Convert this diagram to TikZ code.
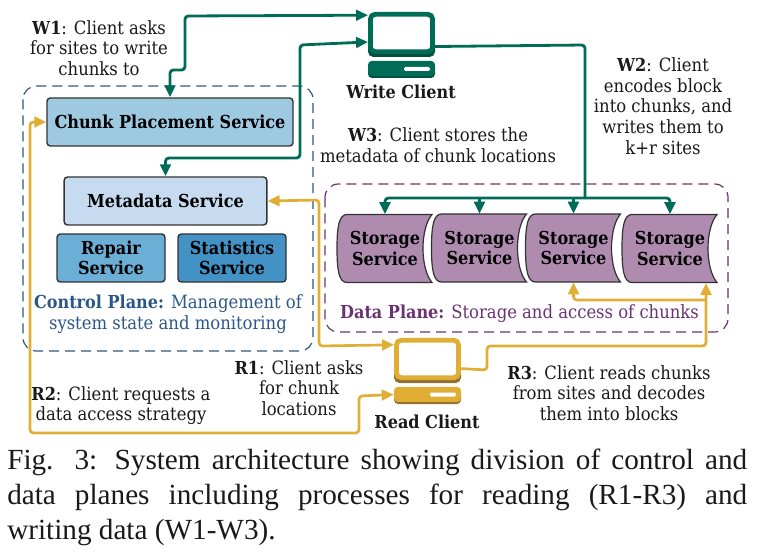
\documentclass[tikz,border=0pt]{standalone}
\usepackage{fontspec}
\setmainfont{Liberation Serif}
\newfontfamily\figfont{DejaVu Serif Condensed}
\usepackage{tikz}
\usetikzlibrary{arrows.meta}
\definecolor{wgreen}{HTML}{006B57}
\definecolor{wgreendark}{HTML}{00503F}
\definecolor{ryellow}{HTML}{E0AE35}
\definecolor{ryellowdark}{HTML}{8F7030}
\definecolor{ctrlblue}{HTML}{2B5688}
\definecolor{dataplum}{HTML}{6B3272}
\definecolor{stplum}{HTML}{AF8BB0}
\definecolor{chunkblue}{HTML}{9ECAE1}
\definecolor{metablue}{HTML}{C6DBEF}
\definecolor{repairblue}{HTML}{6BAED6}
\definecolor{statsblue}{HTML}{4292C6}
\newcommand{\lbl}[1]{\textbf{\fontsize{13.4}{15.5}\selectfont #1}}

\begin{document}
\begin{tikzpicture}[x=0.75pt, y=-0.75pt,
      service/.style={draw=black!80, line width=1.1pt, rounded corners=2.5pt, inner sep=0pt,
                      font=\figfont\bfseries\fontsize{13.4}{15.5}\selectfont, align=center},
      caption/.style={inner sep=0pt, align=center, font=\figfont\fontsize{13.7}{15.5}\selectfont, text=black!90},
      plane/.style={line width=0.9pt, rounded corners=10pt, dash pattern=on 7.5pt off 4.5pt},
      stshape/.style={draw=black!80, line width=0.9pt, fill=stplum},
      stbox/.style={inner sep=0pt, minimum width=71pt, minimum height=51pt, align=center,
                    font=\figfont\bfseries\fontsize{13.4}{15.5}\selectfont},
      screen/.style={line width=3.6pt, rounded corners=3.5pt, fill=white, minimum width=46.6pt, minimum height=28pt, inner sep=0pt},
      base/.style={rounded corners=3pt, minimum width=50.2pt, minimum height=11.5pt, inner sep=0pt},
      warr/.style={wgreen, line width=2.1pt, rounded corners=2.5pt},
      rarr/.style={ryellow, line width=2pt, rounded corners=2.5pt},
      tip/.style={-{Triangle[length=9pt, width=8pt]}},
      tips/.style={{Triangle[length=9pt, width=8pt]}-{Triangle[length=9pt, width=8pt]}}]
    \useasboundingbox (0, 0) rectangle (773, 559);
    % planes
    \draw[plane, draw=ctrlblue] (23, 86) rectangle (313, 351);
    \draw[plane, draw=dataplum] (325, 184) rectangle (728, 332);
    % services
    \node[service, minimum width=184.5pt, minimum height=36pt, fill=chunkblue] (chunk) at (170, 122) {Chunk Placement Service};
    \node[service, minimum width=152pt, minimum height=36pt, fill=metablue] (meta) at (165.5, 201) {Metadata Service};
    \node[service, minimum width=81pt, minimum height=36pt, fill=repairblue] (repair) at (111, 258) {Repair\\Service};
    \node[service, minimum width=81pt, minimum height=36pt, fill=statsblue] (stats) at (232, 258) {Statistics\\Service};
    % storage sites
    \foreach \nm/\cx/\cy in {st1/385/248.5, st2/479.5/248, st3/573.5/248, st4/670/248.5} {
      \draw[stshape, shift={(\cx, \cy)}] (-38, -34) .. controls (-46, -34) and (-48, -22) .. (-48, 0)
        .. controls (-48, 22) and (-46, 34) .. (-38, 34) -- (47, 34)
        .. controls (35, 20) and (35, -20) .. (47, -34) -- cycle;
      \node[stbox] (\nm) at (\cx, \cy) {Storage\\Service};
    }
    % clients
    \fill[wgreendark, rounded corners=4pt] (368, 40) rectangle (435, 57);
    \node[screen, draw=wgreen] (wsc) at (401.5, 33) {};
    \fill[wgreendark, rounded corners=3pt] (368, 62) rectangle (435, 78);
    \node[base, fill=wgreen] (wbs) at (401.5, 68.5) {};
    \fill[white, rounded corners=1pt] (404, 67) rectangle (430, 71);
    \fill[ryellowdark, rounded corners=4pt] (394, 366) rectangle (461, 383);
    \node[screen, draw=ryellow] (rsc) at (427.5, 359) {};
    \fill[ryellowdark, rounded corners=3pt] (394, 388) rectangle (461, 404);
    \node[base, fill=ryellow] (rbs) at (427.5, 394.5) {};
    \fill[white, rounded corners=1pt] (430, 392.5) rectangle (456, 396.5);
    % write flows
    \draw[warr, tips] (wsc.152) -- (185, 16) -- (185, 70) -- (170, 70) -- (chunk.north);
    \draw[warr, tips] (wsc.195) -- (300, 45) -- (300, 158) -- (165.5, 158) -- (meta.north);
    \draw[warr] (wsc.-22) -- (585, 45) -- (585, 198);
    \draw[warr, tip] (585, 198) -- (385, 198) -- (st1.north);
    \draw[warr, tip] (479.5, 198) -- (st2.north);
    \draw[warr, tip] (573.5, 198) -- (st3.north);
    \draw[warr, tip] (585, 198) -- (670, 198) -- (st4.north);
    % read flows
    \draw[rarr, tips] (rsc.157) -- (319, 346) -- (319, 200) -- (meta.east);
    \draw[rarr, tips] (rbs.west) -- (359, 396) -- (359, 433) -- (30, 433) -- (30, 122) -- (chunk.west);
    \coordinate (r3in) at (706, 283);
    \draw[rarr, tip] (rsc.-16) -- (487, 370) -- (487, 346) -- (706, 346) -- (r3in);
    \draw[rarr, tip] (706, 300) -- (573.5, 300) -- (st3.south);
    % labels
    \node[caption] (w1) at (99, 48) {\lbl{W1}: Client asks\\for sites to write\\chunks to};
    \node[caption] (wcl) at (401, 92) {\lbl{Write Client}};
    \node[caption] (w3) at (438, 145) {\lbl{W3}: Client stores the\\metadata of chunk locations};
    \node[caption] (w2) at (663, 106) {\lbl{W2}: Client\\encodes block\\into chunks, and\\writes them to\\k+r sites};
    \node[caption, text=ctrlblue] (cp) at (168, 314) {\lbl{Control Plane:} Management of\\system state and monitoring};
    \node[caption, text=dataplum] (dp) at (519.5, 313.5) {\lbl{Data Plane:} Storage and access of chunks};
    \node[caption] (r1) at (299, 388) {\lbl{R1}: Client asks\\for chunk\\locations};
    \node[caption] (r2) at (121, 405.5) {\lbl{R2}: Client requests a\\data access strategy};
    \node[caption] (r3) at (609, 393) {\lbl{R3}: Client reads chunks\\from sites and decodes\\them into blocks};
    \node[caption] (rcl) at (427, 422) {\lbl{Read Client}};
    % figure text
    \node[anchor=north west, inner sep=0pt, text width=555pt, align=justify,
          font=\fontsize{21.9}{26.2}\selectfont, text=black!90] (figcap) at (7, 449)
      {Fig. 3: System architecture showing division of control and\linebreak data planes including processes for reading (R1-R3) and\linebreak writing data (W1-W3).};
  \end{tikzpicture}
\end{document}
